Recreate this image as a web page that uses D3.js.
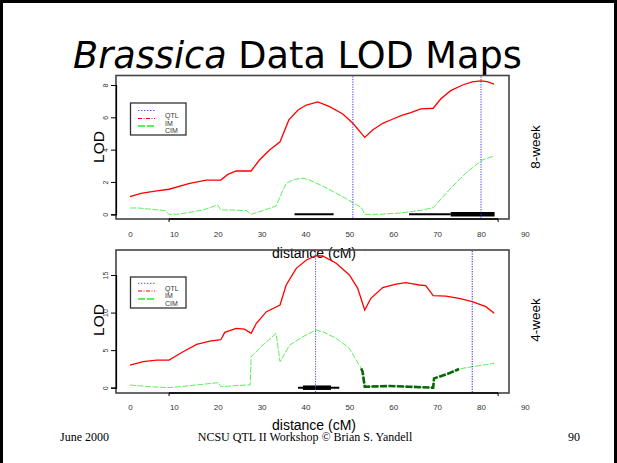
<!DOCTYPE html>
<html><head><meta charset="utf-8">
<script src="https://cdn.jsdelivr.net/npm/d3@7"></script>
<style>
body{margin:0;background:#fff;}
svg{display:block;}
</style></head>
<body><svg id="c" width="617" height="463"></svg>
<script>
// ---- data ----
const xTickLabels = [0,10,20,30,40,50,60,70,80,90];
const yTicks8 = [0,2,4,6,8];
const yTicks4 = [0,5,10,15];
const legendLabels = ["QTL","IM","CIM"];

// 8-week : IM (interval mapping) LOD
const im8 = [[0,1.09],[2.5,1.3],[6.1,1.45],[8.9,1.55],[13.6,1.92],[17.4,2.12],[20.7,2.12],[22.3,2.47],[24.2,2.68],[27.6,2.68],
 [29.5,3.36],[31.8,3.98],[34.2,4.49],[36.2,5.84],[38.3,6.45],[40.2,6.76],[42.8,6.95],[45.5,6.66],[48.5,6.21],[50.8,5.63],
 [53.5,4.76],[55.3,5.22],[57.6,5.63],[59.8,5.88],[62.1,6.14],[64.0,6.29],[66.3,6.52],[69.1,6.56],[70.8,7.13],[73.1,7.65],
 [75.8,8.0],[78.0,8.19],[80.0,8.25],[81.4,8.21],[83.0,8.06]];
// 8-week : CIM LOD
const cim8 = [[0,0.39],[1.9,0.39],[8.0,0.23],[8.9,0.0],[10.6,0.0],[13.6,0.12],[16.7,0.27],[20.0,0.58],[20.7,0.27],[22.7,0.27],
 [26.5,0.23],[27.6,0.0],[30.3,0.23],[33.3,0.52],[34.2,1.09],[35.6,1.92],[37.5,2.16],[39.4,2.23],[40.9,2.12],[43.9,1.75],
 [48.5,1.09],[50.8,0.72],[52.7,0.43],[53.5,0.0],[56.8,0.0],[60.6,0.06],[64.0,0.16],[66.7,0.27],[69.1,0.41],[72.7,1.5],
 [76.5,2.54],[80.3,3.36],[83.0,3.61]];
const qtl8 = [50.8, 80.0];
const thin8 = [[37.5,46.4],[63.6,73.1]];
const thick8 = [[73.1,83.1]];

// 4-week : IM LOD
const im4 = [[0,3.0],[3.0,3.46],[6.1,3.68],[8.9,3.68],[12.1,4.79],[15.2,5.77],[18.2,6.21],[20.7,6.39],[21.6,7.37],[24.2,7.9],
 [26.1,7.8],[27.6,7.23],[28.8,8.57],[31.1,10.12],[34.2,11.0],[35.6,13.67],[37.9,15.89],[40.2,17.0],[42.4,17.58],[43.9,17.53],
 [47.0,16.56],[50.0,15.0],[51.9,13.23],[53.5,10.34],[54.9,11.9],[57.6,13.32],[60.6,13.8],[62.9,13.98],[64.8,13.8],[65.9,13.67],
 [67.4,13.58],[69.1,12.25],[72.0,12.2],[75.0,11.9],[78.0,11.45],[81.1,10.79],[83.0,9.9]];
// 4-week : CIM LOD
const cim4 = [[0,0.36],[4.5,0.13],[8.9,0.0],[13.6,0.27],[20.1,0.67],[20.7,0.13],[26.5,0.36],[27.4,0.36],[27.6,4.13],[30.3,5.68],
 [33.3,7.23],[34.2,3.46],[36.4,5.68],[39.4,6.79],[42.4,7.68],[43.9,7.46],[47.0,6.57],[50.0,5.24],[51.1,4.13],[52.7,2.57],
 [53.0,2.13],[53.5,0.13],[59.1,0.22],[63.6,0.13],[69.1,0.0],[69.3,1.24],[72.7,1.91],[75.0,2.49],[78.0,2.8],[83.0,3.24]];
const qtl4 = [42.3, 78.0];
const thin4 = [[38.3,47.7]];
const thick4 = [[39.4,45.8]];
const cimSig4 = [51.5, 75.0];   // range drawn in dark green

// ---- drawing ----
const svg = d3.select("#c");
svg.append("rect").attr("x",1.5).attr("y",1.5).attr("width",614).attr("height",470)
  .attr("fill","none").attr("stroke","#000").attr("stroke-width",3);

// title
const title = svg.append("text").attr("x",73).attr("y",68)
  .style("font-family","DejaVu Sans").style("font-size","31px").attr("fill","#000");
title.append("tspan").style("font-style","italic").text("Brassica");
title.append("tspan").text(" Data LOD Maps");
const tw = title.node().getComputedTextLength();
title.style("font-size", (31*449/tw).toFixed(2)+"px");

const x = d3.scaleLinear().domain([0,80]).range([130,481]);

function panel(opt){
  const g = svg.append("g");
  const y = d3.scaleLinear().domain([0,opt.ymaxTick]).range([opt.y0,opt.yTop]);
  // box
  g.append("rect").attr("x",116).attr("y",opt.boxTop).attr("width",393).attr("height",opt.boxBot-opt.boxTop)
    .attr("fill","none").attr("stroke","#444").attr("stroke-width",1.6);
  // y axis
  const ya = g.append("g").attr("transform","translate(116,0)")
    .call(d3.axisLeft(y).tickValues(opt.yTicks).tickSize(5).tickFormat(d3.format("d")));
  ya.select(".domain").attr("stroke","#000").attr("stroke-width",1.2);
  ya.selectAll(".tick line").attr("stroke","#000");
  ya.selectAll(".tick text").attr("x",0).attr("y",-8).attr("dy",0).attr("transform","rotate(-90)")
    .style("text-anchor","middle").style("font-family","Liberation Sans, Arial").style("font-size","7px").attr("fill","#333");
  // bottom axis line
  g.append("line").attr("x1",x(8.9)).attr("x2",x(83.9)).attr("y1",opt.boxBot).attr("y2",opt.boxBot)
    .attr("stroke","#000").attr("stroke-width",1.4);
  [8.9,83.9].forEach(v=>g.append("line").attr("x1",x(v)).attr("x2",x(v)).attr("y1",opt.boxBot).attr("y2",opt.boxBot+3).attr("stroke","#000"));
  // x tick labels
  const xa = g.append("g").attr("transform",`translate(0,${opt.xLabY})`)
    .call(d3.axisBottom(x).tickValues(xTickLabels).tickSize(0).tickPadding(0).tickFormat(d3.format("d")));
  xa.select(".domain").remove();
  xa.selectAll("text").style("font-family","Liberation Sans, Arial").style("font-size","8px").attr("fill","#333");

  const line = d3.line().x(d=>x(d[0])).y(d=>y(d[1]));
  // CIM
  g.append("path").attr("d",line(opt.cim)).attr("fill","none").attr("stroke","#5cf05c")
    .attr("stroke-width",1).attr("stroke-dasharray","6,1.5");
  if(opt.sig){
    const seg = opt.cim.filter(d=>d[0]>=opt.sig[0]&&d[0]<=opt.sig[1]);
    g.append("path").attr("d",line(seg)).attr("fill","none").attr("stroke","#0a640a")
      .attr("stroke-width",2.6).attr("stroke-dasharray","7,1.5");
  }
  // IM
  g.append("path").attr("d",line(opt.im)).attr("fill","none").attr("stroke","#ff0000").attr("stroke-width",1.3);
  // intervals
  opt.thin.forEach(r=>g.append("line").attr("x1",x(r[0])).attr("x2",x(r[1])).attr("y1",y(0)).attr("y2",y(0))
    .attr("stroke","#000").attr("stroke-width",2));
  opt.thick.forEach(r=>g.append("line").attr("x1",x(r[0])).attr("x2",x(r[1])).attr("y1",y(0)).attr("y2",y(0))
    .attr("stroke","#000").attr("stroke-width",4.5));
  // QTL lines
  opt.qtl.forEach((q,i)=>g.append("line").attr("x1",x(q)).attr("x2",x(q)).attr("y1",opt.boxTop+1).attr("y2",opt.boxBot-1)
    .attr("stroke",opt.qtlCol[i]).attr("stroke-width",1).attr("stroke-dasharray","1.2,1.3"));
  // legend
  const L = opt.leg;
  g.append("rect").attr("x",130.5).attr("y",L.top).attr("width",55.5).attr("height",L.h)
    .attr("fill","#fff").attr("stroke","#333").attr("stroke-width",1.3);
  const ls = [{c:"#5555ff",d:"1.5,1.5",w:1},{c:"#ff0000",d:"4,1.5,1,1.5",w:1},{c:"#22ee22",d:"7,2",w:1.3}];
  ls.forEach((s,i)=>g.append("line").attr("x1",138).attr("x2",155).attr("y1",L.lineY[i]).attr("y2",L.lineY[i])
    .attr("stroke",s.c).attr("stroke-width",s.w).attr("stroke-dasharray",s.d));
  legendLabels.forEach((t,i)=>g.append("text").attr("x",165).attr("y",L.labY[i]).attr("dy","0.35em")
    .style("font-family","Liberation Sans, Arial").style("font-size","7px").attr("fill","#333").text(t));
  // axis titles
  g.append("text").attr("transform",`translate(104,${opt.lodY}) rotate(-90)`).style("text-anchor","middle")
    .style("font-family","Liberation Sans, Arial").style("font-size","15.5px").attr("fill","#000").text("LOD");
  g.append("text").attr("transform",`translate(540,${opt.lodY}) rotate(-90)`).style("text-anchor","middle")
    .style("font-family","Liberation Sans, Arial").style("font-size","13.5px").attr("fill","#000").text(opt.side);
  return g;
}

panel({ymaxTick:8,y0:214.3,yTop:85,yTicks:yTicks8,boxTop:75.5,boxBot:219,xLabY:231,
  im:im8,cim:cim8,qtl:qtl8,qtlCol:["#3333ff","#3333ff"],thin:thin8,thick:thick8,
  leg:{top:103,h:32,lineY:[110.5,118.5,126],labY:[115.7,123.3,130.7]},lodY:147,side:"8-week"});

// x title of top panel (drawn before lower panel, partly overlapped)
svg.append("text").attr("x",314).attr("y",258).style("text-anchor","middle")
  .style("font-family","Liberation Sans, Arial").style("font-size","14px").attr("fill","#000").text("distance (cM)");

panel({ymaxTick:15,y0:387.7,yTop:275,yTicks:yTicks4,boxTop:250,boxBot:393,xLabY:404,
  im:im4,cim:cim4,sig:cimSig4,qtl:qtl4,qtlCol:["#4444ff","#2222bb"],thin:thin4,thick:thick4,
  leg:{top:277,h:31,lineY:[283.3,291,299],labY:[289,296,304]},lodY:320,side:"4-week"});

svg.append("text").attr("x",314).attr("y",430).style("text-anchor","middle")
  .style("font-family","Liberation Sans, Arial").style("font-size","14px").attr("fill","#000").text("distance (cM)");

// footer
const ff = "Liberation Serif, Times New Roman";
svg.append("text").attr("x",60).attr("y",441).style("font-family",ff).style("font-size","12px").text("June 2000");
svg.append("text").attr("x",305).attr("y",441).style("text-anchor","middle").style("font-family",ff).style("font-size","12px")
  .text("NCSU QTL II Workshop © Brian S. Yandell");
svg.append("text").attr("x",580).attr("y",441).style("text-anchor","end").style("font-family",ff).style("font-size","12px").text("90");
</script></body></html>
